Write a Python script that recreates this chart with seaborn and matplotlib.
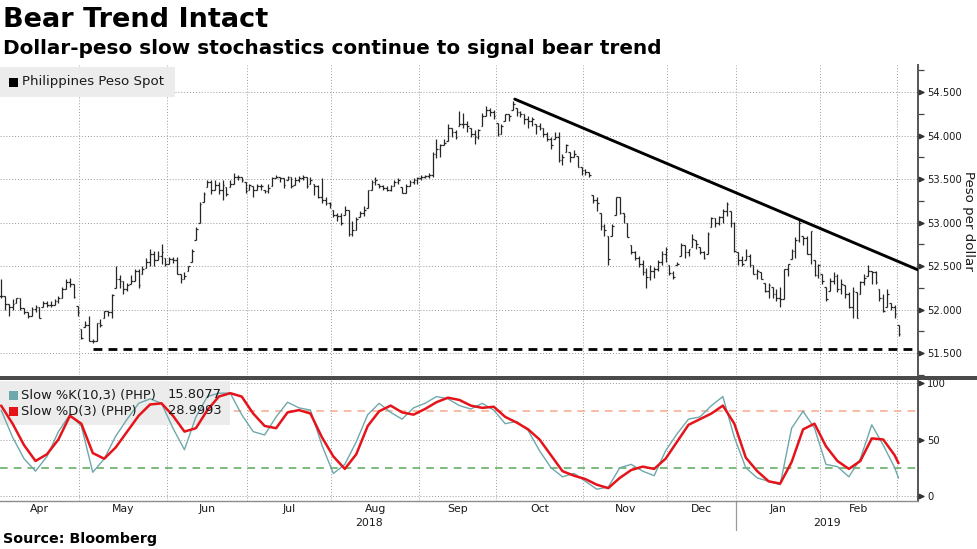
import numpy as np
import pandas as pd
import matplotlib
matplotlib.use("Agg")
import matplotlib.pyplot as plt
import seaborn as sns
from matplotlib.patches import Rectangle
from matplotlib.lines import Line2D

# ---------------- data ----------------
high = [52.35,52.16,52.07,52.12,52.14,52.14,52.02,51.97,52.03,52.05,52.03,52.10,52.10,52.10,52.12,52.16,52.26,52.35,52.37,52.30,
        52.04,51.78,51.87,51.93,51.66,51.85,51.89,51.99,51.99,52.18,52.50,52.40,52.33,52.31,52.40,52.47,52.47,52.50,52.60,52.70,
        52.68,52.68,52.75,52.60,52.61,52.61,52.61,52.41,52.43,52.50,52.70,52.95,53.24,53.35,53.49,53.49,53.49,53.47,53.49,53.41,
        53.49,53.57,53.55,53.53,53.47,53.45,53.42,53.45,53.45,53.38,53.45,53.53,53.55,53.53,53.51,53.54,53.53,53.53,53.54,53.55,
        53.53,53.53,53.45,53.43,53.51,53.30,53.24,53.15,53.11,53.11,53.19,53.15,53.02,53.07,53.13,53.19,53.38,53.49,53.53,53.45,
        53.43,53.42,53.43,53.49,53.51,53.41,53.45,53.49,53.51,53.53,53.55,53.55,53.57,53.81,53.96,53.91,53.96,54.13,54.09,54.06,
        54.28,54.26,54.17,54.09,54.06,54.08,54.26,54.34,54.32,54.30,54.15,54.13,54.25,54.25,54.40,54.32,54.28,54.25,54.23,54.21,
        54.13,54.15,54.09,54.04,53.98,54.04,54.04,53.79,53.91,53.81,53.83,53.77,53.64,53.62,53.58,53.32,53.30,53.11,52.98,52.85,
        52.98,53.30,53.30,53.11,53.00,52.74,52.68,52.62,52.57,52.48,52.51,52.49,52.57,52.68,52.72,52.51,52.44,52.55,52.77,52.74,
        52.70,52.87,52.80,52.72,52.68,52.89,53.07,53.05,53.08,53.16,53.24,53.14,53.01,52.66,52.62,52.70,52.64,52.51,52.47,52.43,
        52.31,52.31,52.26,52.24,52.26,52.47,52.53,52.70,52.83,53.05,52.85,52.85,52.91,52.57,52.53,52.41,52.26,52.37,52.43,52.41,
        52.35,52.28,52.20,52.26,52.20,52.33,52.41,52.51,52.45,52.45,52.24,52.18,52.24,52.08,52.06,51.83]
low = [52.14,52.00,51.93,52.00,52.08,52.00,51.95,51.91,51.93,51.97,51.91,52.03,52.03,52.03,52.06,52.08,52.14,52.24,52.26,52.14,
       51.93,51.66,51.80,51.64,51.62,51.64,51.80,51.91,51.93,51.91,52.25,52.25,52.18,52.22,52.30,52.33,52.25,52.41,52.48,52.50,
       52.50,52.57,52.53,52.50,52.53,52.54,52.41,52.31,52.35,52.45,52.55,52.80,53.00,53.24,53.41,53.33,53.37,53.33,53.26,53.31,
       53.41,53.45,53.49,53.47,53.34,53.38,53.30,53.38,53.38,53.34,53.34,53.42,53.51,53.47,53.40,53.49,53.40,53.43,53.47,53.49,
       53.40,53.45,53.32,53.28,53.23,53.20,53.17,53.06,53.02,52.97,53.09,52.85,52.85,52.92,53.06,53.08,53.17,53.38,53.43,53.40,
       53.38,53.36,53.36,53.42,53.45,53.34,53.34,53.42,53.45,53.45,53.49,53.51,53.51,53.53,53.74,53.75,53.89,53.94,53.98,53.96,
       54.11,54.09,54.04,53.98,53.91,53.96,54.11,54.23,54.23,54.19,54.00,54.02,54.17,54.17,54.30,54.23,54.21,54.13,54.09,54.11,
       54.02,54.06,53.98,53.94,53.85,53.96,53.70,53.66,53.81,53.70,53.75,53.64,53.55,53.55,53.53,53.23,53.13,52.92,52.85,52.51,
       52.85,53.09,53.10,53.00,52.83,52.64,52.57,52.49,52.40,52.25,52.34,52.36,52.45,52.51,52.55,52.40,52.35,52.51,52.62,52.59,
       52.62,52.72,52.70,52.64,52.58,52.64,52.95,52.95,52.97,53.00,53.08,52.95,52.66,52.51,52.50,52.57,52.49,52.41,52.35,52.35,
       52.20,52.14,52.14,52.10,52.03,52.12,52.39,52.58,52.60,52.78,52.74,52.64,52.53,52.39,52.37,52.30,52.10,52.22,52.30,52.20,
       52.18,52.14,52.02,51.90,51.90,52.18,52.28,52.39,52.30,52.30,52.10,51.97,52.03,52.00,51.91,51.70]
close = [52.16,52.07,52.03,52.07,52.14,52.02,51.97,51.93,52.01,52.03,51.91,52.08,52.06,52.05,52.10,52.14,52.24,52.32,52.30,52.15,
         51.97,51.68,51.83,51.64,51.64,51.85,51.83,51.99,51.97,52.17,52.35,52.33,52.24,52.28,52.33,52.45,52.28,52.47,52.55,52.64,
         52.57,52.62,52.66,52.53,52.58,52.57,52.41,52.35,52.39,52.50,52.68,52.93,53.22,53.33,53.47,53.37,53.43,53.37,53.43,53.33,
         53.45,53.53,53.52,53.49,53.36,53.43,53.38,53.42,53.42,53.36,53.40,53.51,53.53,53.51,53.43,53.52,53.42,53.49,53.51,53.52,
         53.42,53.49,53.42,53.30,53.26,53.23,53.21,53.09,53.08,53.00,53.15,52.87,52.92,53.04,53.11,53.15,53.38,53.47,53.49,53.42,
         53.40,53.38,53.42,53.47,53.49,53.34,53.42,53.47,53.49,53.51,53.53,53.54,53.55,53.79,53.85,53.89,53.92,54.09,54.04,53.98,
         54.13,54.13,54.11,54.02,53.98,54.06,54.23,54.30,54.27,54.23,54.02,54.11,54.25,54.23,54.36,54.27,54.25,54.19,54.17,54.19,
         54.11,54.09,54.02,53.96,53.89,53.98,53.72,53.75,53.89,53.75,53.79,53.64,53.60,53.58,53.55,53.26,53.23,52.96,52.92,52.58,
         52.96,53.30,53.11,53.08,52.83,52.66,52.60,52.53,52.43,52.38,52.45,52.47,52.55,52.64,52.70,52.42,52.38,52.53,52.74,52.66,
         52.70,52.81,52.76,52.66,52.60,52.87,53.05,53.00,53.07,53.14,53.22,53.00,52.68,52.57,52.53,52.62,52.51,52.41,52.45,52.35,
         52.22,52.28,52.18,52.14,52.12,52.47,52.52,52.68,52.80,53.00,52.82,52.64,52.90,52.40,52.51,52.33,52.12,52.33,52.39,52.24,
         52.30,52.18,52.03,52.22,51.91,52.32,52.37,52.45,52.43,52.32,52.14,51.99,52.18,52.03,51.95,51.72]

# slow stochastics, read every third bar plus the last bar
slow_k = [76,52,33,22,35,57,72,62,21,33,53,68,82,86,82,60,41,70,88,91,
          91,72,57,54,70,83,78,76,45,20,28,48,72,82,74,68,78,82,88,86,
          80,77,82,76,64,66,58,40,25,17,20,13,6,8,25,28,22,18,40,55,
          68,70,80,88,52,25,16,13,10,60,75,60,28,26,17,33,63,45,25,15.8077]
slow_d = [80,64,45,31,37,50,71,64,38,33,43,57,71,81,82,71,57,60,76,88,
          91,88,73,62,60,74,76,73,52,35,24,37,62,75,80,74,72,77,83,87,
          85,80,78,79,70,65,59,50,36,22,18,15,10,7,16,23,26,24,33,48,
          63,68,73,80,64,34,22,13,11,30,59,64,44,31,24,31,51,50,36,28.9993]
k_last, d_last = "15.8077", "28.9993"

trend_x = [134.5, 240.0]      # bar index of the drawn resistance line
trend_y = [54.42, 52.46]
support_start = 24
support_level = 51.55

holidays = pd.to_datetime(["2018-12-24", "2018-12-25", "2018-12-31", "2019-01-01"])
dates = pd.bdate_range("2018-04-02", "2019-03-01")
dates = dates[~dates.isin(holidays)]
n = len(close)
idx = np.arange(n)
stoch_idx = np.r_[np.arange(0, n, 3), n - 1]

price_ticks = [51.5, 52.0, 52.5, 53.0, 53.5, 54.0, 54.5]
stoch_ticks = [0, 50, 100]

# ---------------- style ----------------
sns.set_theme(style="white")
plt.rcParams["font.family"] = ["DejaVu Sans"]
TXT = "#1a1a1a"
GRID = dict(color="#9a9a9a", lw=0.7, ls=(0, (1, 2)))

W, H = 977, 549
fig = plt.figure(figsize=(W / 100, H / 100), dpi=100)
ax1 = fig.add_axes([0, 1 - 375 / H, 918 / W, (375 - 65) / H])
ax2 = fig.add_axes([0, 1 - 501 / H, 918 / W, (501 - 380) / H], sharex=ax1)

xlim = (-0.3, 240.1)

# ---------------- price panel ----------------
opens = np.clip(np.r_[close[0], close[:-1]], low, high)
bar_c = "#262626"
ax1.vlines(idx, low, high, color=bar_c, lw=0.9, zorder=3)
ax1.hlines(opens, idx - 0.45, idx, color=bar_c, lw=0.9, zorder=3)
ax1.hlines(close, idx, idx + 0.45, color=bar_c, lw=0.9, zorder=3)

sns.lineplot(x=trend_x, y=trend_y, ax=ax1, color="black", lw=2.1, zorder=4)
ax1.plot([support_start, xlim[1]], [support_level, support_level], color="black",
         lw=2.0, ls=(0, (3.2, 2.2)), zorder=4)

ax1.set_ylim(51.268, 54.812)
ax1.set_xlim(*xlim)

# month boundaries
month_first = [i for i in range(1, n) if dates[i].month != dates[i - 1].month]
bounds = [b - 0.5 for b in month_first]
for ax in (ax1, ax2):
    for b in bounds:
        ax.axvline(b, zorder=1, **GRID)
for t in price_ticks:
    ax1.axhline(t, zorder=1, **GRID)
for t in stoch_ticks:
    ax2.axhline(t, zorder=1, **GRID)

for ax in (ax1, ax2):
    for s in ("left", "top", "bottom"):
        ax.spines[s].set_visible(False)
    ax.spines["right"].set_color("#555555")
    ax.spines["right"].set_linewidth(1.4)
    ax.yaxis.tick_right()
    ax.tick_params(axis="y", which="major", length=4, width=1, color="#444444",
                   labelsize=7.2, labelcolor=TXT, pad=2.5)
ax2.spines["bottom"].set_visible(True)
ax2.spines["bottom"].set_color("#8c8c8c")
ax2.spines["bottom"].set_linewidth(1.0)

ax1.set_yticks(price_ticks)
ax1.set_yticklabels([f"{t:.3f}" for t in price_ticks])
ax1.set_yticks(np.arange(51.25, 54.8, 0.5), minor=True)
ax1.tick_params(axis="y", which="minor", length=4, width=0.9, color="#444444")
ax1.tick_params(axis="x", which="both", length=0, labelbottom=False)

for ax, ticks in ((ax1, price_ticks), (ax2, stoch_ticks)):
    ax.plot(np.full(len(ticks), 1 + 3 / 918), ticks, transform=ax.get_yaxis_transform(),
            ls="none", marker=">", ms=3.2, color="#333333", clip_on=False, zorder=6)

# legend top
ax1.add_patch(Rectangle((0, (375 - 97) / 310), 175 / 918, 30 / 310, transform=ax1.transAxes,
                        facecolor="#ececec", edgecolor="none", zorder=2.5))
ax1.add_patch(Rectangle((9 / 918, (375 - 87) / 310), 9 / 918, 9 / 310, transform=ax1.transAxes,
                        facecolor="black", edgecolor="none", zorder=6))
ax1.text(22 / 918, (375 - 82) / 310, "Philippines Peso Spot", transform=ax1.transAxes,
         fontsize=9.6, color=TXT, va="center", ha="left", zorder=6)

# ---------------- stochastic panel ----------------
k_col, d_col = "#6fa8aa", "#e5141b"
ax2.axhline(75, color="#f5a98c", lw=1.1, ls=(0, (5, 4)), zorder=2)
ax2.axhline(25, color="#5aa85a", lw=1.1, ls=(0, (5, 4)), zorder=2)
sns.lineplot(x=stoch_idx, y=slow_k, ax=ax2, color=k_col, lw=1.0, zorder=3)
sns.lineplot(x=stoch_idx, y=slow_d, ax=ax2, color=d_col, lw=1.8, zorder=4)
ax2.set_ylim(-4.4, 102.65)
ax2.set_yticks(stoch_ticks)
ax2.set_yticklabels([str(t) for t in stoch_ticks])
ax2.set_xlabel("")
ax2.set_ylabel("")
ax1.set_xlabel("")
ax1.set_ylabel("")

ax2.add_patch(Rectangle((0, (501 - 425) / 121), 230 / 918, 44 / 121, transform=ax2.transAxes,
                        facecolor="#ececec", edgecolor="none", zorder=2.5))
rows = [("Slow %K(10,3) (PHP)", k_last, k_col, 395), ("Slow %D(3) (PHP)", d_last, d_col, 411)]
for label, val, col, yy in rows:
    ax2.add_patch(Rectangle((9 / 918, (501 - yy - 4.5) / 121), 9 / 918, 9 / 121,
                            transform=ax2.transAxes, facecolor=col, edgecolor="none", zorder=6))
    ax2.text(21 / 918, (501 - yy) / 121, label, transform=ax2.transAxes, fontsize=9.4,
             color=TXT, va="center", ha="left", zorder=6)
    ax2.text(222 / 918, (501 - yy) / 121, val, transform=ax2.transAxes, fontsize=9.4,
             color=TXT, va="center", ha="right", zorder=6)

# x axis: month boundary ticks, month names centred
ax2.set_xticks(bounds)
ax2.set_xticklabels([])
ax2.tick_params(axis="x", which="major", length=4, width=0.9, color="#8c8c8c", direction="out")
starts = [0] + month_first
ends = month_first + [n]
xt = ax2.get_xaxis_transform()
for s, e in zip(starts, ends):
    if e - s < 3:
        continue
    ax2.text((s + e - 1) / 2, -8 / 121, dates[s].strftime("%b"), transform=xt,
             ha="center", va="center", fontsize=7.8, color=TXT)
year_break = [i for i in range(1, n) if dates[i].year != dates[i - 1].year][0] - 0.5
ax2.text((0 + year_break) / 2, -22 / 121, "2018", transform=xt, ha="center", va="center",
         fontsize=7.8, color=TXT)
ax2.text((year_break + xlim[1]) / 2, -22 / 121, "2019", transform=xt, ha="center", va="center",
         fontsize=7.8, color=TXT)
ax2.add_line(Line2D([year_break, year_break], [0, -29 / 121], transform=xt, color="#9a9a9a",
                    lw=0.9, clip_on=False))

# separator band between panels
fig.patches.append(Rectangle((0, 1 - 380 / H), 1, 4 / H, transform=fig.transFigure,
                             facecolor="#4a4a4a", edgecolor="none", zorder=10))

# titles and labels
fig.text(3 / W, 1 - 20 / H, "Bear Trend Intact", fontsize=19.5, fontweight="bold",
         color="black", va="center", ha="left")
fig.text(3 / W, 1 - 48 / H, "Dollar-peso slow stochastics continue to signal bear trend",
         fontsize=14.4, fontweight="bold", color="black", va="center", ha="left")
fig.text(3 / W, 1 - 539 / H, "Source: Bloomberg", fontsize=10.3, fontweight="bold",
         color="black", va="center", ha="left")
fig.text(969 / W, 1 - 221 / H, "Peso per dollar", rotation=270, fontsize=9.6, color=TXT,
         va="center", ha="center")

fig.savefig("out.png", dpi=100, facecolor="white")
